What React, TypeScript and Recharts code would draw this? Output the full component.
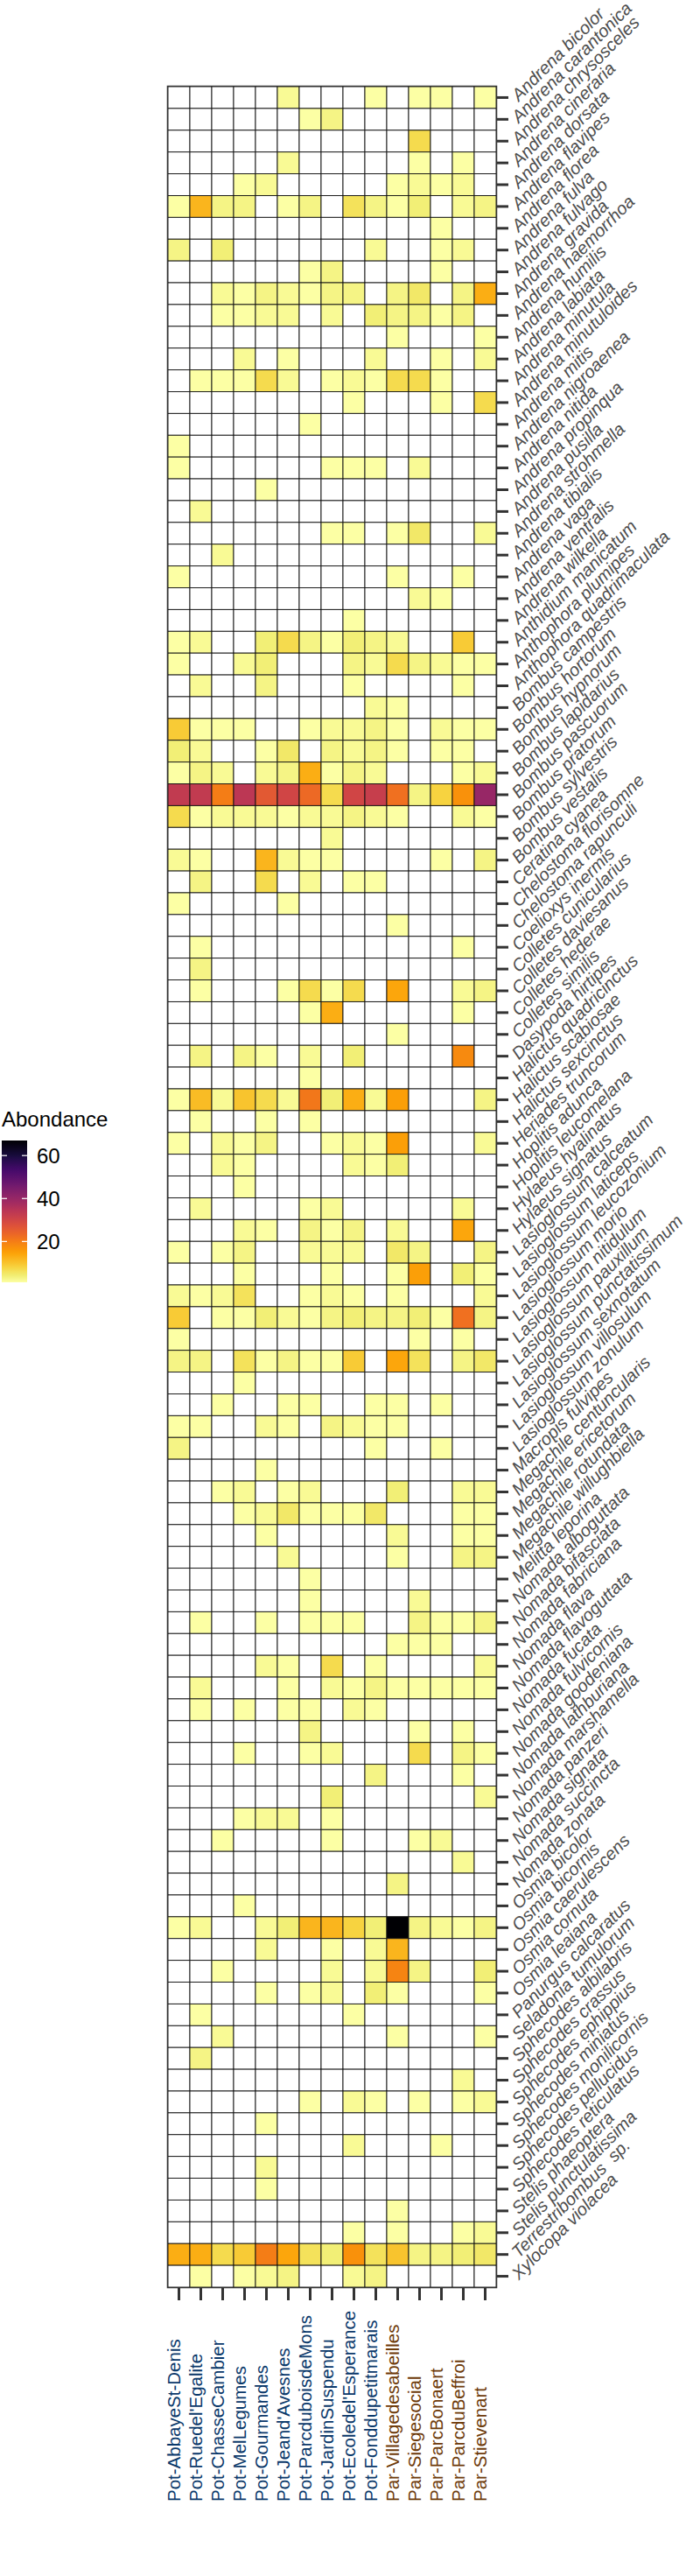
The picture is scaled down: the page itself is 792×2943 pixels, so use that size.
import React from 'react';
import { ScatterChart, Scatter, XAxis, YAxis, ReferenceArea } from 'recharts';

const SITES = [
  'Pot-AbbayeSt-Denis', "Pot-Ruedel'Egalite", 'Pot-ChasseCambier', 'Pot-MelLegumes', 'Pot-Gourmandes',
  "Pot-Jeand'Avesnes", 'Pot-ParcduboisdeMons', 'Pot-JardinSuspendu', "Pot-Ecoledel'Esperance",
  'Pot-Fonddupetitmarais', 'Par-Villagedesabeilles', 'Par-Siegesocial', 'Par-ParcBonaert',
  'Par-ParcduBeffroi', 'Par-Stievenart',
];

// species names and abundance per site, grouped by genus (same order as SITES)
const ANDRENA = [
  'Andrena bicolor', 'Andrena carantonica', 'Andrena chrysosceles', 'Andrena cineraria', 'Andrena dorsata',
  'Andrena flavipes', 'Andrena florea', 'Andrena fulva', 'Andrena fulvago', 'Andrena gravida',
  'Andrena haemorrhoa', 'Andrena humilis', 'Andrena labiata', 'Andrena minutula', 'Andrena minutuloides',
  'Andrena mitis', 'Andrena nigroaenea', 'Andrena nitida', 'Andrena propinqua', 'Andrena pusilla',
  'Andrena strohmella', 'Andrena tibialis', 'Andrena vaga', 'Andrena ventralis', 'Andrena wilkella',
];
const ANDRENA_N = [
  [0, 0, 0, 0, 0, 2, 0, 0, 0, 1, 0, 1, 1, 0, 1],
  [0, 0, 0, 0, 0, 0, 1, 3, 0, 0, 0, 0, 0, 0, 0],
  [0, 0, 0, 0, 0, 0, 0, 0, 0, 0, 0, 7, 0, 0, 0],
  [0, 0, 0, 0, 0, 2, 0, 0, 0, 0, 0, 1, 0, 1, 0],
  [0, 0, 0, 1, 2, 0, 0, 0, 0, 0, 1, 2, 1, 2, 0],
  [1, 12, 3, 3, 0, 1, 3, 0, 6, 3, 1, 4, 0, 2, 3],
  [0, 0, 0, 0, 0, 0, 0, 0, 0, 0, 0, 0, 1, 0, 0],
  [3, 0, 4, 0, 0, 0, 0, 0, 0, 2, 0, 0, 1, 2, 0],
  [0, 0, 0, 0, 0, 0, 1, 3, 0, 0, 0, 0, 1, 0, 0],
  [0, 0, 2, 1, 3, 2, 1, 3, 3, 0, 3, 5, 0, 3, 13],
  [0, 0, 1, 1, 2, 2, 0, 2, 0, 4, 3, 3, 1, 3, 0],
  [0, 0, 0, 0, 0, 0, 0, 0, 0, 0, 1, 0, 0, 0, 1],
  [0, 0, 0, 2, 0, 1, 0, 0, 0, 2, 0, 0, 1, 0, 2],
  [0, 1, 1, 1, 7, 2, 0, 1, 2, 1, 7, 7, 1, 0, 0],
  [0, 0, 0, 0, 0, 0, 0, 0, 1, 0, 0, 0, 1, 0, 7],
  [0, 0, 0, 0, 0, 0, 1, 0, 0, 0, 0, 0, 0, 0, 0],
  [1, 0, 0, 0, 0, 0, 0, 0, 0, 0, 0, 0, 0, 0, 0],
  [1, 0, 0, 0, 0, 0, 0, 1, 1, 1, 0, 2, 0, 0, 0],
  [0, 0, 0, 0, 1, 0, 0, 0, 0, 0, 0, 0, 0, 0, 0],
  [0, 2, 0, 0, 0, 0, 0, 0, 0, 0, 0, 0, 0, 0, 0],
  [0, 0, 0, 0, 0, 0, 0, 1, 1, 0, 1, 5, 0, 0, 2],
  [0, 0, 2, 0, 0, 0, 0, 0, 0, 0, 0, 0, 0, 0, 0],
  [1, 0, 0, 0, 0, 0, 0, 0, 0, 0, 1, 0, 0, 1, 0],
  [0, 0, 0, 0, 0, 0, 0, 0, 0, 0, 0, 2, 1, 0, 0],
  [0, 0, 0, 0, 0, 0, 0, 0, 1, 0, 0, 0, 0, 0, 0],
];

const ANTHO = ['Anthidium manicatum', 'Anthophora plumipes', 'Anthophora quadrimaculata'];
const ANTHO_N = [
  [1, 2, 0, 0, 4, 7, 3, 1, 4, 3, 2, 0, 0, 9, 0],
  [1, 0, 0, 2, 4, 0, 0, 0, 3, 2, 7, 3, 2, 1, 1],
  [0, 2, 0, 0, 3, 0, 0, 0, 1, 0, 0, 0, 0, 1, 0],
];

const BOMBUS = [
  'Bombus campestris', 'Bombus hortorum', 'Bombus hypnorum', 'Bombus lapidarius',
  'Bombus pascuorum', 'Bombus pratorum', 'Bombus sylvestris', 'Bombus vestalis',
];
const BOMBUS_N = [
  [0, 0, 0, 0, 0, 0, 0, 0, 0, 2, 1, 0, 0, 0, 0],
  [9, 1, 1, 1, 0, 0, 1, 2, 2, 3, 1, 0, 2, 1, 1],
  [4, 2, 0, 0, 1, 5, 0, 3, 2, 3, 1, 0, 1, 1, 0],
  [1, 3, 2, 0, 2, 3, 13, 1, 3, 2, 0, 0, 0, 1, 2],
  [33, 33, 20, 34, 26, 30, 23, 7, 30, 32, 22, 3, 8, 17, 40],
  [7, 1, 2, 2, 2, 1, 2, 2, 3, 2, 1, 0, 0, 2, 1],
  [0, 0, 0, 0, 0, 0, 0, 2, 0, 0, 0, 0, 0, 0, 0],
  [2, 1, 0, 0, 12, 2, 1, 1, 0, 0, 0, 0, 1, 0, 3],
];

const CERATINA_DASYPODA = [
  'Ceratina cyanea', 'Chelostoma florisomne', 'Chelostoma rapunculi', 'Coelioxys inermis',
  'Colletes cunicularius', 'Colletes daviesanus', 'Colletes hederae', 'Colletes similis', 'Dasypoda hirtipes',
];
const CERATINA_DASYPODA_N = [
  [0, 3, 0, 0, 7, 0, 2, 0, 1, 1, 0, 0, 0, 0, 0],
  [1, 0, 0, 0, 0, 1, 0, 0, 0, 0, 0, 0, 0, 0, 0],
  [0, 0, 0, 0, 0, 0, 0, 0, 0, 0, 1, 0, 0, 0, 0],
  [0, 1, 0, 0, 0, 0, 0, 0, 0, 0, 0, 0, 0, 1, 0],
  [0, 3, 0, 0, 0, 0, 0, 0, 0, 0, 0, 0, 0, 0, 0],
  [0, 1, 0, 0, 0, 1, 7, 1, 7, 0, 14, 0, 0, 2, 3],
  [0, 0, 0, 0, 0, 0, 1, 13, 0, 0, 0, 0, 0, 1, 0],
  [0, 0, 0, 0, 0, 0, 0, 0, 0, 0, 1, 0, 0, 0, 0],
  [0, 3, 0, 3, 1, 0, 2, 0, 4, 0, 0, 0, 0, 18, 0],
];

const HALICTUS_HYLAEUS = [
  'Halictus quadricinctus', 'Halictus scabiosae', 'Halictus sexcinctus', 'Heriades truncorum',
  'Hoplitis adunca', 'Hoplitis leucomelana', 'Hylaeus hyalinatus', 'Hylaeus signatus',
];
const HALICTUS_HYLAEUS_N = [
  [0, 0, 0, 0, 0, 0, 1, 0, 0, 0, 0, 0, 0, 0, 0],
  [1, 11, 2, 10, 7, 2, 21, 4, 13, 2, 15, 0, 0, 0, 3],
  [0, 1, 0, 0, 1, 0, 1, 0, 0, 0, 0, 0, 0, 0, 0],
  [1, 0, 2, 1, 3, 0, 0, 1, 2, 1, 15, 0, 0, 0, 2],
  [0, 0, 2, 1, 0, 0, 0, 0, 2, 1, 4, 0, 0, 0, 0],
  [0, 0, 0, 1, 0, 0, 0, 0, 0, 0, 0, 0, 0, 0, 0],
  [0, 2, 0, 0, 0, 0, 1, 2, 0, 0, 0, 0, 0, 2, 0],
  [0, 0, 0, 2, 1, 0, 3, 1, 3, 0, 2, 0, 0, 14, 0],
];

const LASIOGLOSSUM = [
  'Lasioglossum calceatum', 'Lasioglossum laticeps', 'Lasioglossum leucozonium', 'Lasioglossum morio',
  'Lasioglossum nitidulum', 'Lasioglossum pauxillum', 'Lasioglossum punctatissimum',
  'Lasioglossum sexnotatum', 'Lasioglossum villosulum', 'Lasioglossum zonulum',
];
const LASIOGLOSSUM_N = [
  [1, 0, 1, 3, 0, 0, 2, 2, 2, 0, 5, 3, 0, 0, 3],
  [0, 0, 0, 1, 0, 0, 0, 1, 0, 0, 1, 15, 0, 4, 1],
  [2, 1, 2, 6, 0, 0, 1, 2, 1, 0, 1, 0, 0, 0, 2],
  [9, 0, 1, 1, 4, 2, 1, 3, 4, 3, 3, 4, 1, 22, 3],
  [1, 0, 0, 0, 0, 0, 0, 0, 0, 0, 0, 1, 0, 1, 0],
  [3, 3, 0, 6, 1, 3, 1, 1, 9, 0, 14, 6, 0, 3, 5],
  [0, 0, 0, 1, 0, 0, 0, 0, 0, 0, 0, 0, 0, 0, 0],
  [0, 0, 1, 0, 0, 1, 1, 0, 0, 1, 1, 0, 1, 0, 0],
  [1, 1, 0, 0, 2, 1, 0, 3, 2, 1, 1, 0, 0, 0, 0],
  [3, 0, 0, 0, 0, 0, 0, 0, 0, 1, 0, 0, 1, 0, 0],
];

const MACROPIS_MELITTA = [
  'Macropis fulvipes', 'Megachile centuncularis', 'Megachile ericetorum', 'Megachile rotundata',
  'Megachile willughbiella', 'Melitta leporina',
];
const MACROPIS_MELITTA_N = [
  [0, 0, 0, 0, 1, 0, 0, 0, 0, 0, 0, 0, 0, 0, 0],
  [0, 0, 1, 2, 0, 1, 2, 0, 0, 0, 4, 0, 0, 2, 2],
  [0, 0, 0, 1, 2, 5, 1, 1, 1, 5, 0, 0, 0, 1, 1],
  [0, 0, 0, 0, 1, 0, 0, 0, 0, 0, 2, 0, 0, 1, 1],
  [0, 0, 0, 0, 0, 2, 0, 0, 0, 0, 1, 0, 0, 3, 3],
  [0, 0, 0, 0, 0, 0, 1, 0, 0, 0, 0, 0, 0, 0, 0],
];

const NOMADA = [
  'Nomada alboguttata', 'Nomada bifasciata', 'Nomada fabriciana', 'Nomada flava', 'Nomada flavoguttata',
  'Nomada fucata', 'Nomada fulvicornis', 'Nomada goodeniana', 'Nomada lathburiana', 'Nomada marshamella',
  'Nomada panzeri', 'Nomada signata', 'Nomada succincta', 'Nomada zonata',
];
const NOMADA_N = [
  [0, 0, 0, 0, 0, 0, 1, 0, 0, 0, 0, 2, 0, 0, 0],
  [0, 1, 0, 0, 1, 0, 1, 1, 1, 0, 0, 3, 1, 1, 3],
  [0, 0, 0, 0, 0, 0, 0, 0, 0, 0, 1, 1, 1, 0, 0],
  [0, 0, 0, 0, 2, 1, 0, 7, 0, 1, 0, 0, 0, 0, 2],
  [0, 2, 0, 0, 0, 1, 0, 2, 1, 3, 1, 1, 1, 1, 1],
  [0, 1, 0, 1, 0, 1, 1, 0, 2, 1, 0, 0, 0, 0, 0],
  [0, 0, 0, 0, 0, 0, 3, 0, 0, 0, 0, 1, 0, 1, 0],
  [0, 0, 0, 1, 0, 0, 1, 2, 0, 0, 0, 7, 0, 3, 1],
  [0, 0, 0, 0, 0, 0, 0, 0, 0, 3, 0, 0, 0, 1, 0],
  [0, 0, 0, 0, 0, 0, 0, 4, 0, 0, 0, 0, 0, 0, 2],
  [0, 0, 0, 1, 2, 2, 0, 1, 0, 0, 0, 0, 0, 0, 0],
  [0, 0, 1, 0, 0, 0, 0, 1, 0, 0, 0, 1, 2, 0, 0],
  [0, 0, 0, 0, 0, 0, 0, 0, 0, 0, 0, 0, 0, 2, 0],
  [0, 0, 0, 0, 0, 0, 0, 0, 0, 0, 3, 0, 0, 0, 0],
];

const OSMIA_SELADONIA = [
  'Osmia bicolor', 'Osmia bicornis', 'Osmia caerulescens', 'Osmia cornuta', 'Osmia leaiana',
  'Panurgus calcaratus', 'Seladonia tumulorum',
];
const OSMIA_SELADONIA_N = [
  [0, 0, 0, 1, 0, 0, 0, 0, 0, 0, 0, 0, 0, 0, 0],
  [1, 2, 0, 0, 2, 4, 12, 12, 8, 4, 67, 3, 2, 1, 3],
  [0, 0, 0, 0, 2, 0, 0, 1, 0, 2, 12, 0, 0, 0, 0],
  [0, 0, 1, 0, 0, 0, 0, 2, 0, 2, 19, 3, 0, 0, 4],
  [0, 0, 0, 0, 1, 0, 1, 2, 0, 4, 1, 0, 0, 0, 1],
  [0, 1, 0, 0, 0, 0, 0, 0, 1, 0, 0, 0, 0, 0, 0],
  [0, 0, 2, 0, 0, 0, 0, 0, 0, 0, 1, 0, 0, 0, 1],
];

const SPHECODES_XYLOCOPA = [
  'Sphecodes albilabris', 'Sphecodes crassus', 'Sphecodes ephippius', 'Sphecodes miniatus',
  'Sphecodes monilicornis', 'Sphecodes pellucidus', 'Sphecodes reticulatus', 'Stelis phaeoptera',
  'Stelis punctulatissima', 'Terrestribombus  sp.', 'Xylocopa violacea',
];
const SPHECODES_XYLOCOPA_N = [
  [0, 3, 0, 0, 0, 0, 0, 0, 0, 0, 0, 0, 0, 0, 0],
  [0, 0, 0, 0, 0, 0, 0, 0, 0, 0, 0, 0, 0, 2, 0],
  [0, 0, 0, 0, 0, 0, 1, 0, 2, 1, 0, 1, 0, 1, 2],
  [0, 0, 0, 0, 1, 0, 0, 0, 0, 0, 0, 0, 0, 0, 0],
  [0, 0, 0, 0, 0, 0, 0, 0, 2, 0, 0, 0, 1, 0, 0],
  [0, 0, 0, 0, 2, 0, 0, 0, 0, 0, 0, 0, 0, 0, 0],
  [0, 0, 0, 0, 1, 0, 0, 0, 0, 0, 0, 0, 0, 0, 0],
  [0, 0, 0, 0, 0, 0, 0, 0, 0, 0, 1, 0, 0, 0, 0],
  [0, 0, 0, 0, 0, 0, 0, 0, 1, 0, 1, 0, 0, 1, 2],
  [13, 13, 7, 9, 20, 14, 6, 4, 17, 6, 10, 3, 3, 4, 5],
  [0, 1, 0, 1, 2, 3, 0, 0, 2, 3, 0, 0, 0, 0, 0],
];

const LEGEND_TICKS = [20, 40, 60];

const SPECIES = [
  ...ANDRENA, ...ANTHO, ...BOMBUS, ...CERATINA_DASYPODA, ...HALICTUS_HYLAEUS,
  ...LASIOGLOSSUM, ...MACROPIS_MELITTA, ...NOMADA, ...OSMIA_SELADONIA, ...SPHECODES_XYLOCOPA,
];
const COUNTS = [
  ...ANDRENA_N, ...ANTHO_N, ...BOMBUS_N, ...CERATINA_DASYPODA_N, ...HALICTUS_HYLAEUS_N,
  ...LASIOGLOSSUM_N, ...MACROPIS_MELITTA_N, ...NOMADA_N, ...OSMIA_SELADONIA_N, ...SPHECODES_XYLOCOPA_N,
];

const cells = COUNTS.flatMap((row, r) => row.map((v, c) => ({ x: c, y: r, v })));
const nonZero = cells.map((d) => d.v).filter((v) => v > 0);
const VMIN = Math.min(...nonZero);
const VMAX = Math.max(...nonZero);

// inferno, used reversed (low = pale yellow, high = black)
const INFERNO: [number, string][] = [
  [0, '#000004'], [0.1, '#160B39'], [0.111, '#1B0C42'], [0.2, '#420A68'], [0.222, '#4B0C6B'],
  [0.3, '#6A176E'], [0.333, '#781C6D'], [0.4, '#932667'], [0.444, '#A52C60'], [0.5, '#BC3754'],
  [0.556, '#CF4446'], [0.6, '#DD513A'], [0.667, '#ED6925'], [0.7, '#F37819'], [0.778, '#FB9A06'],
  [0.8, '#FCA50A'], [0.889, '#F7D03C'], [0.9, '#F6D746'], [0.95, '#F1ED71'], [1, '#FCFFA4'],
];

function hexToRgb(h: string) {
  return [1, 3, 5].map((i) => parseInt(h.slice(i, i + 2), 16));
}

function inferno(t: number) {
  const tt = Math.max(0, Math.min(1, t));
  for (let i = 1; i < INFERNO.length; i++) {
    const [t1, c1] = INFERNO[i];
    if (tt <= t1) {
      const [t0, c0] = INFERNO[i - 1];
      const f = (tt - t0) / (t1 - t0);
      const a = hexToRgb(c0);
      const b = hexToRgb(c1);
      const rgb = a.map((v, k) => Math.round(v + (b[k] - v) * f));
      return `rgb(${rgb[0]},${rgb[1]},${rgb[2]})`;
    }
  }
  return INFERNO[INFERNO.length - 1][1];
}

function colorFor(v: number) {
  if (v <= 0) return '#FFFFFF';
  return inferno(1 - (v - VMIN) / (VMAX - VMIN));
}

const FONT = '"Liberation Sans", Arial, Helvetica, sans-serif';
const W = 792;
const H = 2943;
const PLOT = { left: 192, top: 99, right: 567, bottom: 2613 };
const CELL_W = (PLOT.right - PLOT.left) / SITES.length;
const CELL_H = (PLOT.bottom - PLOT.top) / SPECIES.length;
const SITE_LABEL_DROP = 228;

const HeatCell = (p: any) => {
  const { cx, cy, payload } = p;
  return (
    <rect
      x={cx - CELL_W / 2}
      y={cy - CELL_H / 2}
      width={CELL_W}
      height={CELL_H}
      fill={colorFor(payload.v)}
      stroke="#111"
      strokeWidth={0.9}
    />
  );
};

const SpeciesTick = ({ x, y, payload }: any) => (
  <text
    x={x}
    y={y}
    dy="0.35em"
    transform={`rotate(-45 ${x} ${y})`}
    textAnchor="start"
    fontSize={20}
    fontStyle="italic"
    fill="#4D4D4D"
    fontFamily={FONT}
    style={{ whiteSpace: 'pre' }}
  >
    {SPECIES[payload.value]}
  </text>
);

const SiteTick = ({ x, y, payload }: any) => {
  const name = SITES[payload.value];
  const lx = x + 1;
  const ly = y + SITE_LABEL_DROP;
  return (
    <text
      x={lx}
      y={ly}
      transform={`rotate(-90 ${lx} ${ly})`}
      textAnchor="start"
      fontSize={20.5}
      fontFamily={FONT}
      fill={name.startsWith('Pot') ? '#0B396B' : '#6E3B0A'}
    >
      {name}
    </text>
  );
};

function ColourBar() {
  const top = 1303;
  const h = 162;
  const x = 2;
  const w = 29;
  const yOf = (v: number) => top + ((VMAX - v) / (VMAX - VMIN)) * h;
  const stops = Array.from({ length: 41 }, (_, i) => {
    const v = VMAX - (i / 40) * (VMAX - VMIN);
    return <stop key={i} offset={`${(i / 40) * 100}%`} stopColor={colorFor(v)} />;
  });
  return (
    <svg width={150} height={1500} style={{ position: 'absolute', left: 0, top: 0, pointerEvents: 'none' }}>
      <defs>
        <linearGradient id="abond" x1="0" y1="0" x2="0" y2="1">
          {stops}
        </linearGradient>
      </defs>
      <text x={2} y={1287} fontSize={24} fontFamily={FONT} fill="#000">
        Abondance
      </text>
      <rect x={x} y={top} width={w} height={h} fill="url(#abond)" />
      {LEGEND_TICKS.map((t) => (
        <g key={t}>
          <line x1={x} x2={x + 6} y1={yOf(t)} y2={yOf(t)} stroke="#fff" strokeWidth={1.2} />
          <line x1={x + w - 6} x2={x + w} y1={yOf(t)} y2={yOf(t)} stroke="#fff" strokeWidth={1.2} />
          <text x={42} y={yOf(t)} dy="0.36em" fontSize={24} fontFamily={FONT} fill="#000">
            {t}
          </text>
        </g>
      ))}
    </svg>
  );
}

export default function App() {
  const xTicks = SITES.map((_, i) => i);
  const yTicks = SPECIES.map((_, i) => i);
  return (
    <div style={{ position: 'absolute', left: 0, top: 0, width: W, height: H, background: '#fff' }}>
      <ScatterChart
        width={W}
        height={H}
        margin={{ top: PLOT.top, left: PLOT.left, right: W - PLOT.right - 60, bottom: H - PLOT.bottom - 30 }}
      >
        <XAxis
          type="number"
          dataKey="x"
          domain={[-0.5, SITES.length - 0.5]}
          allowDataOverflow
          ticks={xTicks}
          interval={0}
          height={30}
          axisLine={false}
          tickSize={15}
          tickMargin={2}
          tickLine={{ stroke: '#333', strokeWidth: 3 }}
          tick={<SiteTick />}
        />
        <YAxis
          type="number"
          dataKey="y"
          orientation="right"
          reversed
          domain={[-0.5, SPECIES.length - 0.5]}
          allowDataOverflow
          ticks={yTicks}
          interval={0}
          width={60}
          axisLine={false}
          tickSize={14}
          tickMargin={7}
          tickLine={{ stroke: '#333', strokeWidth: 3 }}
          tick={<SpeciesTick />}
        />
        <Scatter data={cells} shape={HeatCell} isAnimationActive={false} />
        <ReferenceArea
          x1={-0.5}
          x2={SITES.length - 0.5}
          y1={-0.5}
          y2={SPECIES.length - 0.5}
          fill="none"
          fillOpacity={0}
          stroke="#333"
          strokeWidth={2.5}
        />
      </ScatterChart>
      <ColourBar />
    </div>
  );
}
